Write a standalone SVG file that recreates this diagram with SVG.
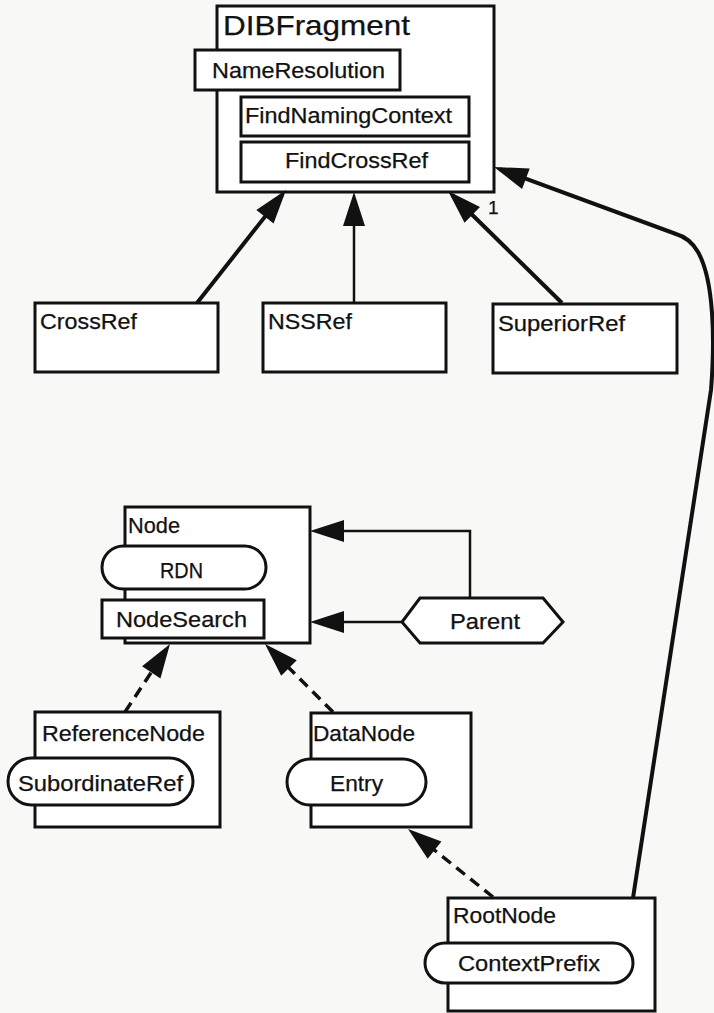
<svg xmlns="http://www.w3.org/2000/svg" width="714" height="1013" viewBox="0 0 714 1013">
<defs>
<style>
.box{fill:#fff;stroke:#111;stroke-width:3}
.pill{fill:#fff;stroke:#111;stroke-width:3}
.t{font-family:"Liberation Sans",Arial,sans-serif;font-size:21.5px;fill:#111;stroke:#111;stroke-width:0.25}
.thick{fill:none;stroke:#111;stroke-width:4}
.thin{fill:none;stroke:#111;stroke-width:2.5}
.dash{fill:none;stroke:#111;stroke-width:3.5;stroke-dasharray:11 7}
</style>
<marker id="ah" markerUnits="userSpaceOnUse" markerWidth="34" markerHeight="22" refX="28" refY="11" orient="auto" overflow="visible">
<path d="M0,0 L34,11 L0,22 Z" fill="#111"/>
</marker>
</defs>
<rect width="714" height="1013" fill="#f8f8f6"/>

<g id="DIBFragment">
<rect class="box" x="217" y="6" width="277" height="186"/>
<text class="t" x="223" y="35" style="font-size:28px" textLength="187" lengthAdjust="spacingAndGlyphs">DIBFragment</text>
<rect class="box" x="195" y="50" width="205" height="40"/>
<text class="t" x="212" y="78" textLength="173" lengthAdjust="spacingAndGlyphs">NameResolution</text>
<rect class="box" x="241" y="97" width="228" height="39"/>
<text class="t" x="245" y="123" textLength="207" lengthAdjust="spacingAndGlyphs">FindNamingContext</text>
<rect class="box" x="241" y="142" width="228" height="40"/>
<text class="t" x="285" y="168" textLength="143" lengthAdjust="spacingAndGlyphs">FindCrossRef</text>
</g>

<g id="CrossRef">
<rect class="box" x="35" y="303" width="183" height="69"/>
<text class="t" x="40" y="329" textLength="97" lengthAdjust="spacingAndGlyphs">CrossRef</text>
</g>
<g id="NSSRef">
<rect class="box" x="263" y="303" width="183" height="69"/>
<text class="t" x="268" y="329" textLength="84" lengthAdjust="spacingAndGlyphs">NSSRef</text>
</g>
<g id="SuperiorRef">
<rect class="box" x="493" y="304" width="184" height="69"/>
<text class="t" x="498" y="331" textLength="127" lengthAdjust="spacingAndGlyphs">SuperiorRef</text>
</g>

<g id="Node">
<rect class="box" x="125" y="507" width="185" height="136"/>
<text class="t" x="128" y="533" textLength="52" lengthAdjust="spacingAndGlyphs">Node</text>
<rect class="pill" x="102" y="546" width="164" height="43" rx="21.5"/>
<text class="t" x="160" y="578" textLength="43" lengthAdjust="spacingAndGlyphs">RDN</text>
<rect class="box" x="102" y="600" width="162" height="38"/>
<text class="t" x="116" y="627" textLength="131" lengthAdjust="spacingAndGlyphs">NodeSearch</text>
</g>

<g id="Parent">
<polygon class="box" points="402,622 420,598 543,598 563,622 543,643 420,643"/>
<text class="t" x="450" y="629" textLength="70" lengthAdjust="spacingAndGlyphs">Parent</text>
</g>

<g id="ReferenceNode">
<rect class="box" x="35" y="712" width="185" height="115"/>
<text class="t" x="42" y="741" textLength="163" lengthAdjust="spacingAndGlyphs">ReferenceNode</text>
<rect class="pill" x="8" y="758" width="185" height="47" rx="23.5"/>
<text class="t" x="18" y="791" textLength="165" lengthAdjust="spacingAndGlyphs">SubordinateRef</text>
</g>

<g id="DataNode">
<rect class="box" x="311" y="713" width="160" height="114"/>
<text class="t" x="313" y="741" textLength="102" lengthAdjust="spacingAndGlyphs">DataNode</text>
<rect class="pill" x="287" y="759" width="139" height="46" rx="23"/>
<text class="t" x="330" y="791" textLength="53" lengthAdjust="spacingAndGlyphs">Entry</text>
</g>

<g id="RootNode">
<rect class="box" x="448" y="898" width="207" height="113"/>
<text class="t" x="453" y="923" textLength="103" lengthAdjust="spacingAndGlyphs">RootNode</text>
<rect class="pill" x="425" y="943" width="208" height="40" rx="20"/>
<text class="t" x="458" y="971" textLength="142" lengthAdjust="spacingAndGlyphs">ContextPrefix</text>
</g>

<g id="connectors">
<path class="thick" d="M197,303 L282.3,194.7" marker-end="url(#ah)"/>
<path class="thin" d="M354,303 L354,198" marker-end="url(#ah)"/>
<path class="thick" d="M562,303 L452.3,195.2" marker-end="url(#ah)"/>
<text class="t" x="488" y="214" style="font-size:19px">1</text>
<path class="thick" d="M633,898 L711,390 C715,340 714,280 698,252 Q690,238 676,234 L499.6,169.1" marker-end="url(#ah)"/>
<path class="thin" d="M470,598 L470,531 L316,531" marker-end="url(#ah)"/>
<path class="thin" d="M402,622 L316,622" marker-end="url(#ah)"/>
<path class="dash" d="M125,712 L166.7,649" marker-end="url(#ah)"/>
<path class="dash" d="M333,712 L269.2,648.2" marker-end="url(#ah)"/>
<path class="dash" d="M493,897 L412.7,832.7" marker-end="url(#ah)"/>
</g>
</svg>
